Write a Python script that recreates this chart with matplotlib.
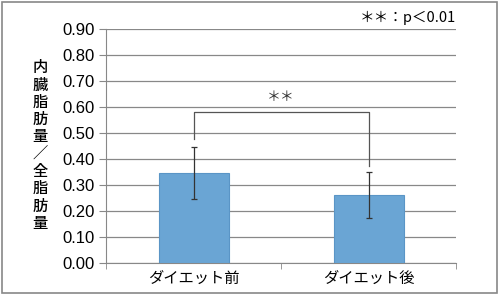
import matplotlib.pyplot as plt
from matplotlib.patches import Rectangle

plt.rcParams['font.family'] = ['Liberation Sans', 'Noto Sans CJK JP', 'DejaVu Sans']

categories = ["ダイエット前", "ダイエット後"]
means = [0.345, 0.262]
sds = [0.100, 0.088]
yticks = [0.0, 0.1, 0.2, 0.3, 0.4, 0.5, 0.6, 0.7, 0.8, 0.9]
bracket_y = 0.58
bracket_legs = [0.478, 0.375]
ylabel = "内臓脂肪量／全脂肪量"

fig = plt.figure(figsize=(5, 2.97), dpi=100)
fig.patches.append(Rectangle((0.004, 0.013), 0.99, 0.98, transform=fig.transFigure,
                             fill=False, edgecolor='#888888', linewidth=1.2))

ax = fig.add_axes([0.212, 0.1145, 0.70, 0.7875])
x = list(range(len(categories)))
ax.bar(x, means, width=0.4, color='#6aa5d4', edgecolor='#5a95c6', linewidth=0.8, zorder=3)
ax.errorbar(x, means, yerr=sds, fmt='none', ecolor='#333333', elinewidth=0.9,
            capsize=2.5, capthick=0.9, zorder=4)

# significance bracket
ax.plot([x[0], x[0], x[1], x[1]], [bracket_legs[0], bracket_y, bracket_y, bracket_legs[1]],
        color='#555555', linewidth=0.9, zorder=4)
ax.text((x[0] + x[1]) / 2, 0.61, "＊＊", ha='center', va='bottom', fontsize=10,
        color='#333333', family=['Noto Sans CJK JP'])

ax.set_xlim(-0.5, 1.5)
ax.set_ylim(0, 0.9)
ax.set_yticks(yticks)
ax.set_yticklabels([f"{v:.2f}" for v in yticks], fontsize=12)
ax.set_xticks(x)
ax.set_xticklabels(categories, fontsize=11, family=['Noto Sans CJK JP'])
ax.tick_params(axis='x', length=0, pad=5)
ax.set_xticks([-0.5, 0.5, 1.5], minor=True)
ax.tick_params(axis='x', which='minor', length=4, color='#888888')
ax.tick_params(axis='y', length=5, color='#888888', pad=3)
ax.grid(axis='y', color='#888888', linewidth=0.9, zorder=0)
ax.set_axisbelow(True)
for s in ['top', 'right']:
    ax.spines[s].set_visible(False)
ax.spines['left'].set_color('#888888')
ax.spines['bottom'].set_color('#888888')

fig.text(0.08, 0.51, "\n".join(ylabel), ha='center', va='center', fontsize=11,
         linespacing=1.02, weight='medium', family=['Noto Sans CJK JP'])
fig.text(0.912, 0.94, "＊＊：p＜0.01", ha='right', va='center', fontsize=10.5,
         family=['Noto Sans CJK JP'])

fig.savefig("out.png", dpi=100)
